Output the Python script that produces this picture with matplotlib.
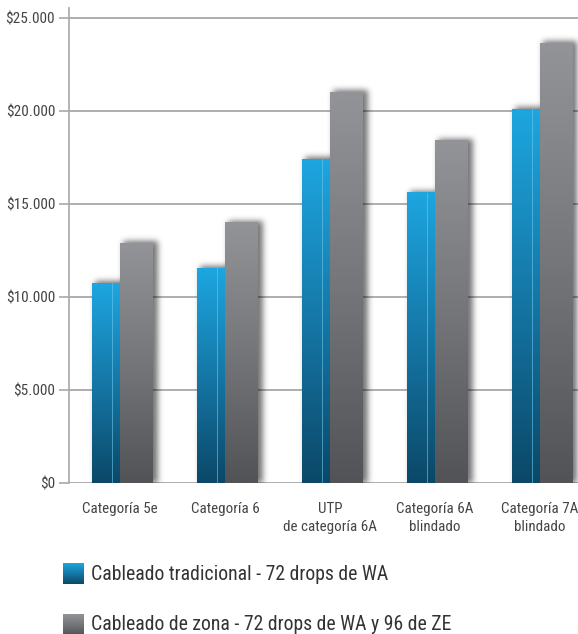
import numpy as np
import matplotlib.pyplot as plt
from matplotlib.colors import LinearSegmentedColormap

# data
categorias = ["Categoría 5e", "Categoría 6", "UTP\nde categoría 6A",
              "Categoría 6A\nblindado", "Categoría 7A\nblindado"]
tradicional = [10750, 11550, 17400, 15600, 20100]
zona = [12900, 14000, 21000, 18400, 23650]
y_ticks = [0, 5000, 10000, 15000, 20000, 25000]
y_labels = ["$0", "$5.000", "$10.000", "$15.000", "$20.000", "$25.000"]
leyenda = ["Cableado tradicional - 72 drops de WA",
           "Cableado de zona - 72 drops de WA y 96 de ZE"]

plt.rcParams["font.family"] = ["Roboto Condensed", "DejaVu Sans"]

W, H = 578, 634
fig = plt.figure(figsize=(W / 100, H / 100), dpi=100)
ax = fig.add_axes([69 / W, 151 / H, (W - 69) / W, 475 / H])

x = np.arange(len(categorias))
w_blue, w_gray = 0.27, 0.305
XMIN, XMAX = (69 - 120) / 105, (W - 120) / 105
YMAX = 25540
px_x = 1 / 105
px_y = YMAX / 475

grad = np.linspace(0, 1, 256).reshape(-1, 1)
cm_blue = LinearSegmentedColormap.from_list("b", ["#0b4868", "#1577a6", "#1da6e0"])
cm_gray = LinearSegmentedColormap.from_list("g", ["#525356", "#75767a", "#939498"])


def soft_profile(n, lo, hi, sigma):
    # box [lo, hi) blurred by a gaussian, sampled per pixel
    box = np.zeros(n)
    box[max(lo, 0):min(hi, n)] = 1
    k = np.arange(-4 * sigma, 4 * sigma + 1)
    g = np.exp(-0.5 * (k / sigma) ** 2)
    g /= g.sum()
    return np.convolve(box, g, mode="same")


def shadow(x0, x1, top, strength=0.55):
    pad = 14
    wpx = int(round((x1 - x0) / px_x))
    hpx = int(round(top / px_y))
    nx, ny = wpx + 2 * pad, hpx + pad
    px = soft_profile(nx, pad + 3, pad + wpx + 5, 3.0)
    py = soft_profile(ny + pad, pad, pad + hpx + 2, 3.0)[pad:]
    a = np.outer(py, px) * strength
    img = np.zeros((ny, nx, 4))
    img[..., 3] = a
    ax.imshow(img, origin="lower", aspect="auto", interpolation="bilinear",
              extent=(x0 - pad * px_x, x1 + pad * px_x, 0, (hpx + pad) * px_y),
              zorder=1)


bars_b = ax.bar(x - w_blue / 2, tradicional, w_blue, color="none", zorder=2)
bars_g = ax.bar(x + w_gray / 2, zona, w_gray, color="none", zorder=2)

for b in list(bars_g) + list(bars_b):
    shadow(b.get_x(), b.get_x() + b.get_width(), b.get_height())

for b in bars_b:
    x0, x1, h = b.get_x(), b.get_x() + b.get_width(), b.get_height()
    ax.imshow(grad, cmap=cm_blue, origin="lower", aspect="auto",
              extent=(x0, x1, 0, h), zorder=3, vmin=0, vmax=1)
    lx = x0 + 20 * px_x
    ax.plot([lx, lx], [0, h], color="#6cc8ee", lw=0.7, alpha=0.6, zorder=4)
for b in bars_g:
    x0, x1, h = b.get_x(), b.get_x() + b.get_width(), b.get_height()
    ax.imshow(grad, cmap=cm_gray, origin="lower", aspect="auto",
              extent=(x0, x1, 0, h), zorder=3, vmin=0, vmax=1)

ax.set_xlim(XMIN, XMAX)
ax.set_ylim(0, YMAX)

for t in y_ticks:
    ax.axhline(t, color="#a8a8a8", lw=1.3, zorder=0)

ax.set_yticks(y_ticks)
ax.set_yticklabels(y_labels, fontsize=11, color="#444444")
ax.tick_params(axis="y", length=7, width=1.2, color="#a8a8a8", pad=3)
ax.set_xticks(x)
ax.set_xticklabels(categorias, fontsize=10.8, color="#444444", va="top",
                   linespacing=1.3)
ax.tick_params(axis="x", length=0, pad=14)

for s in ["top", "right", "bottom"]:
    ax.spines[s].set_visible(False)
ax.spines["left"].set_color("#a8a8a8")
ax.spines["left"].set_linewidth(1.2)

# legend
for i, (txt, cm) in enumerate(zip(leyenda, [cm_blue, cm_gray])):
    y_top = 563 + i * 51
    lax = fig.add_axes([63 / W, 1 - (y_top + 21) / H, 21 / W, 21 / H])
    lax.imshow(grad, cmap=cm, origin="lower", aspect="auto")
    lax.axis("off")
    fig.text(91 / W, 1 - (y_top + 11) / H, txt, fontsize=14.2,
             color="#333333", va="center", ha="left")

fig.savefig("out.png", dpi=100)
